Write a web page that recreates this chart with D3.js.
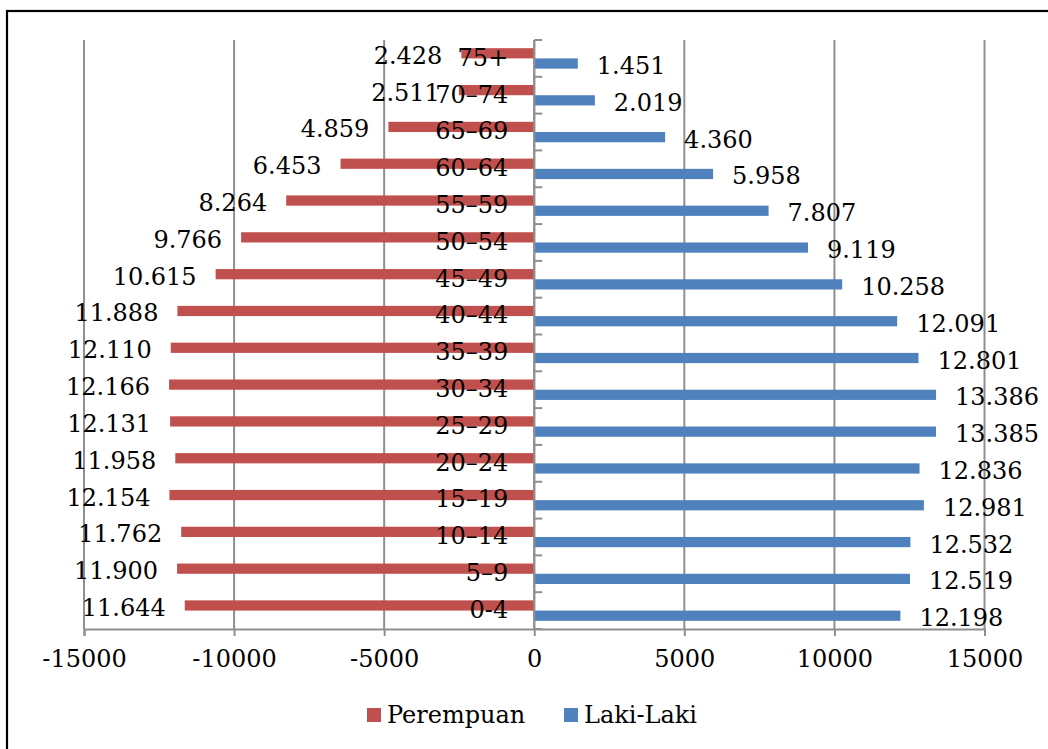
<!DOCTYPE html>
<html>
<head>
<meta charset="utf-8">
<script src="https://cdn.jsdelivr.net/npm/d3@7"></script>
<style>
  html, body { margin: 0; padding: 0; background: #fff; }
  svg { display: block; }
  text { font-family: "DejaVu Serif", serif; font-size: 24px; fill: #000; }
</style>
</head>
<body>
<svg id="chart" width="1048" height="749"></svg>
<script>
// Age groups, top row first
const ageGroups = ["75+", "70–74", "65–69", "60–64", "55–59", "50–54", "45–49", "40–44",
                   "35–39", "30–34", "25–29", "20–24", "15–19", "10–14", "5–9", "0-4"];
// Female population per age group (drawn to the left)
const perempuan = [2428, 2511, 4859, 6453, 8264, 9766, 10615, 11888,
                   12110, 12166, 12131, 11958, 12154, 11762, 11900, 11644];
// Male population per age group (drawn to the right)
const lakiLaki = [1451, 2019, 4360, 5958, 7807, 9119, 10258, 12091,
                  12801, 13386, 13385, 12836, 12981, 12532, 12519, 12198];
const xTicks = [-15000, -10000, -5000, 0, 5000, 10000, 15000];
const seriesNames = ["Perempuan", "Laki-Laki"];
const seriesColors = ["#C0504D", "#4F81BD"];

const svg = d3.select("#chart");

// outer frame
svg.append("rect")
  .attr("x", 7).attr("y", 11)
  .attr("width", 1100).attr("height", 800)
  .attr("fill", "none").attr("stroke", "#000").attr("stroke-width", 2.2);

const x = d3.scaleLinear().domain([-15000, 15000]).range([84, 984.5]);
const y = d3.scaleBand().domain(ageGroups).range([40, 629]).padding(0);
const sub = d3.scaleBand().domain(seriesNames).range([0, y.bandwidth()]).paddingOuter(0.8);

const fmt = d3.formatLocale({ decimal: ",", thousands: ".", grouping: [3], currency: ["", ""] }).format(",d");

const gridColor = "#8f8f8f";

// vertical gridlines
svg.append("g").selectAll("line").data(xTicks).join("line")
  .attr("x1", d => x(d)).attr("x2", d => x(d))
  .attr("y1", y.range()[0]).attr("y2", y.range()[1])
  .attr("stroke", gridColor).attr("stroke-width", 2);

// bottom value axis
const xAxis = svg.append("g")
  .attr("transform", `translate(0,${y.range()[1]})`)
  .call(d3.axisBottom(x).tickValues(xTicks).tickFormat(d => String(d)).tickSize(7).tickPadding(14));
xAxis.select(".domain").attr("stroke", gridColor).attr("stroke-width", 2);
xAxis.selectAll(".tick line").attr("stroke", gridColor).attr("stroke-width", 2);
xAxis.selectAll(".tick text")
  .style("font-family", "'DejaVu Serif', serif").style("font-size", "24px").attr("fill", "#000");

// category axis ticks at band boundaries on the zero line
const bounds = ageGroups.map(c => y(c)).concat([y.range()[1]]);
svg.append("g").selectAll("line").data(bounds).join("line")
  .attr("x1", x(0)).attr("x2", x(0) + 8)
  .attr("y1", d => d).attr("y2", d => d)
  .attr("stroke", gridColor).attr("stroke-width", 2);

// bars
const rows = ageGroups.map((c, i) => ({ c, p: perempuan[i], l: lakiLaki[i] }));
const bars = svg.append("g");
bars.selectAll("rect.p").data(rows).join("rect")
  .attr("class", "p")
  .attr("x", d => x(-d.p)).attr("width", d => x(0) - x(-d.p))
  .attr("y", d => y(d.c) + sub("Perempuan")).attr("height", sub.bandwidth())
  .attr("fill", seriesColors[0]);
bars.selectAll("rect.l").data(rows).join("rect")
  .attr("class", "l")
  .attr("x", x(0)).attr("width", d => x(d.l) - x(0))
  .attr("y", d => y(d.c) + sub("Laki-Laki")).attr("height", sub.bandwidth())
  .attr("fill", seriesColors[1]);

// zero axis line
svg.append("line")
  .attr("x1", x(0)).attr("x2", x(0))
  .attr("y1", y.range()[0]).attr("y2", y.range()[1])
  .attr("stroke", gridColor).attr("stroke-width", 2);

// value labels
const labels = svg.append("g");
labels.selectAll("text.p").data(rows).join("text")
  .attr("class", "p")
  .attr("text-anchor", "end")
  .attr("x", d => x(-d.p) - 19)
  .attr("y", d => y(d.c) + sub("Perempuan") + sub.bandwidth() / 2 + 10.5)
  .text(d => fmt(d.p));
labels.selectAll("text.l").data(rows).join("text")
  .attr("class", "l")
  .attr("text-anchor", "start")
  .attr("x", d => x(d.l) + 19)
  .attr("y", d => y(d.c) + sub("Laki-Laki") + sub.bandwidth() / 2 + 10.5)
  .text(d => fmt(d.l));

// age group labels
svg.append("g").selectAll("text").data(ageGroups).join("text")
  .attr("text-anchor", "end")
  .attr("x", x(0) - 26)
  .attr("y", d => y(d) + y.bandwidth() / 2 + 7.3)
  .text(d => d);

// legend
const legendItems = [
  { name: seriesNames[0], color: seriesColors[0], x: 367 },
  { name: seriesNames[1], color: seriesColors[1], x: 564 }
];
const lg = svg.append("g");
legendItems.forEach(it => {
  lg.append("rect").attr("x", it.x).attr("y", 708).attr("width", 14).attr("height", 14).attr("fill", it.color);
  lg.append("text").attr("x", it.x + 20).attr("y", 723).text(it.name);
});
</script>
</body>
</html>
